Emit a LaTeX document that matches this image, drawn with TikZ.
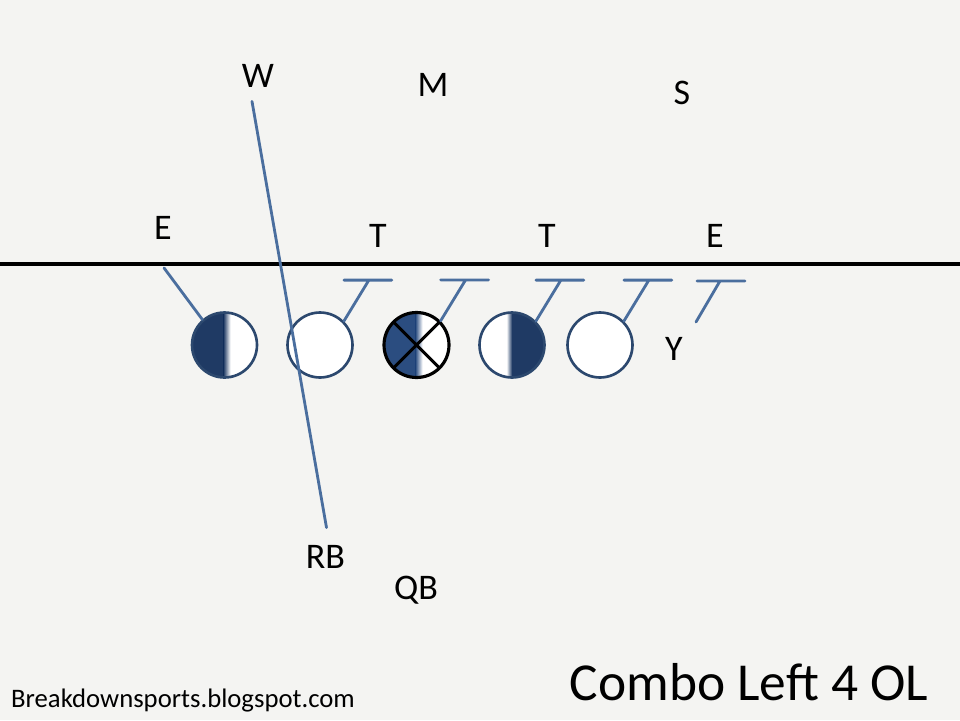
\documentclass[tikz,border=0pt]{standalone}
\usepackage{fontspec}
\setmainfont{Carlito}
\definecolor{bgray}{RGB}{244,244,242}
\definecolor{navy}{RGB}{31,58,100}
\definecolor{midnavy}{RGB}{43,77,128}
\definecolor{rimblue}{RGB}{44,72,110}
\definecolor{routeblue}{RGB}{74,110,158}
\tikzset{
	lbl/.style={font=\fontsize{20.5}{24}\selectfont,inner sep=0pt},
	lineman/.style={circle,draw=rimblue,line width=1.5pt,fill=white,minimum size=1.3cm,inner sep=0pt},
	leftdark/.style={path picture={
		\fill[#1] (path picture bounding box.south west) rectangle ([xshift=-0.02cm]path picture bounding box.north);
		\shade[left color=#1,right color=white] ([xshift=-0.02cm]path picture bounding box.south) rectangle ([xshift=0.12cm]path picture bounding box.north);}},
	rightdark/.style={path picture={
		\fill[#1] (path picture bounding box.south east) rectangle (path picture bounding box.north);
		\shade[left color=white,right color=#1] ([xshift=-0.11cm]path picture bounding box.south) rectangle (path picture bounding box.north);}},
	snapper/.style={lineman,draw=black,line width=1.8pt,path picture={
		\fill[#1] (path picture bounding box.south west) rectangle ([xshift=-0.02cm]path picture bounding box.north);
		\shade[left color=#1,right color=white] ([xshift=-0.02cm]path picture bounding box.south) rectangle ([xshift=0.12cm]path picture bounding box.north);
		\draw[black,line width=1.8pt] (path picture bounding box.north east)--(path picture bounding box.south west)
			(path picture bounding box.north west)--(path picture bounding box.south east);}},
	block/.style={draw=routeblue,line width=1.6pt}
}
\begin{document}
\begin{tikzpicture}[x=0.02cm,y=-0.02cm,line cap=round,line join=round]
		\fill[bgray] (0,0) rectangle (960,720);
		\useasboundingbox (0,0) rectangle (960,720);
		% line of scrimmage
		\draw[line width=2.1pt,line cap=butt] (0,264)--(960,264);
		% linemen
		\node[lineman,leftdark=navy] (lt) at (224.5,345) {};
		\node[lineman] (lg) at (320,345) {};
		\node[snapper=midnavy] (ctr) at (416.5,345) {};
		\node[lineman,rightdark=navy] (rg) at (512,345) {};
		\node[lineman] (rt) at (600,345) {};
		% labels
		\node[lbl] (W) at (258,76) {W};
		\node[lbl] (M) at (433,85) {M};
		\node[lbl] (S) at (682,93) {S};
		\node[lbl] (El) at (163,228) {E};
		\node[lbl] (Tl) at (378,236) {T};
		\node[lbl] (Tr) at (547,236) {T};
		\node[lbl] (Er) at (715,236) {E};
		\node[lbl] (Y) at (674,348.5) {Y};
		\node[lbl] (RB) at (325.5,556.5) {RB};
		\node[lbl,anchor=base] (QB) at (416,599) {QB};
		\coordinate (yb) at (696,322);
		% blocks
		\draw[block] (lt.131)--([xshift=0.02cm,yshift=-0.56cm]El.south);
		\draw[block] ([xshift=0.02cm,yshift=0.34cm]RB.north)--([xshift=-0.12cm,yshift=-0.27cm]W.south);
		\foreach \p in {lg,ctr,rg,rt}
		\draw[block] (\p.45)--++(25,-41) ++(-25,0)--++(48,0);
		\draw[block] (yb)--++(24,-41) ++(-23,0)--++(48,0);
		% captions
		\node[inner sep=0pt,anchor=base,font=\fontsize{30.4}{35}\selectfont] (title) at (749,700) {Combo Left 4 OL};
		\node[inner sep=0pt,anchor=base,font=\fontsize{15.2}{18}\selectfont] (site) at (183,707) {Breakdownsports.blogspot.com};
\end{tikzpicture}
\end{document}
